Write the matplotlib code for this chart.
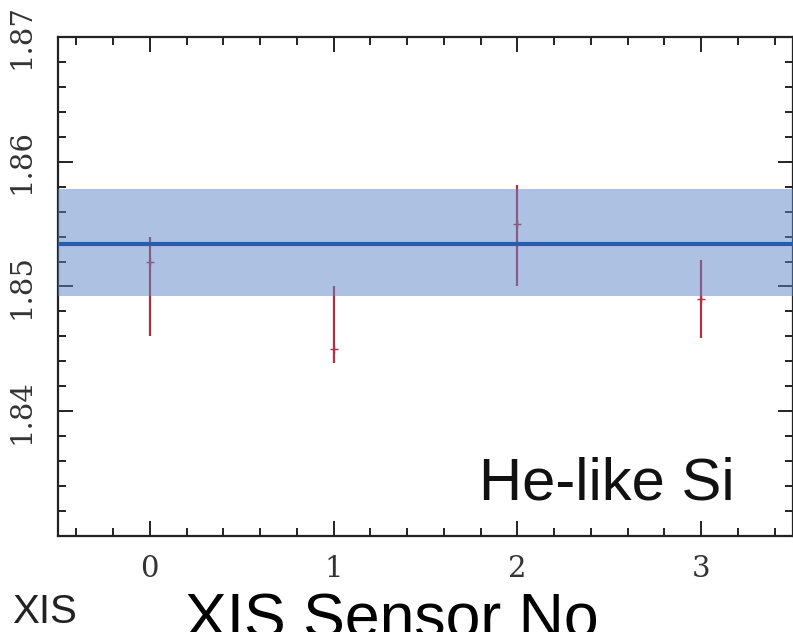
import matplotlib
matplotlib.use("Agg")
import matplotlib.pyplot as plt
from matplotlib.ticker import MultipleLocator, FixedLocator, FormatStrFormatter

# ---- data ----
sensors = [0, 1, 2, 3]
values = [1.852, 1.845, 1.855, 1.849]
err_low = [1.846, 1.8439, 1.850, 1.8459]
err_high = [1.854, 1.850, 1.8581, 1.8521]
mean_value = 1.8534
band_low = 1.8492
band_high = 1.8578
y_ticks = [1.84, 1.85, 1.86, 1.87]
x_ticks = [0, 1, 2, 3]

yerr = [[v - lo for v, lo in zip(values, err_low)],
        [hi - v for v, hi in zip(values, err_high)]]

fig = plt.figure(figsize=(7.93, 6.32), dpi=100)
ax = fig.add_axes([0.0731, 0.1519, 0.927, 0.7896])

ax.errorbar(sensors, values, yerr=yerr, fmt='+', color='#b23040',
            ecolor='#b23040', elinewidth=1.6, markersize=6, capsize=0, zorder=2)
ax.axhspan(band_low, band_high, color='#5d87c9', alpha=0.5, lw=0, zorder=3)
ax.axhline(mean_value, color='#2a5cae', lw=3, zorder=4)

ax.set_xlim(-0.5, 3.5)
ax.set_ylim(1.83, 1.87)
ax.xaxis.set_major_locator(FixedLocator(x_ticks))
ax.xaxis.set_minor_locator(MultipleLocator(0.2))
ax.yaxis.set_major_locator(FixedLocator(y_ticks))
ax.yaxis.set_minor_locator(MultipleLocator(0.002))
ax.yaxis.set_major_formatter(FormatStrFormatter('%.2f'))

ax.tick_params(which='both', direction='in', top=True, right=True,
               color='#222222', width=1.4)
ax.tick_params(which='major', length=11)
ax.tick_params(which='minor', length=6)
ax.tick_params(axis='x', which='major', pad=14, labelsize=21, labelcolor='#333333')
ax.tick_params(axis='y', which='major', pad=16, labelsize=21, labelcolor='#333333')
for lab in ax.get_xticklabels() + ax.get_yticklabels():
    lab.set_family('DejaVu Serif')
for lab in ax.get_yticklabels():
    lab.set_rotation(90)
    lab.set_va('center')

for sp in ax.spines.values():
    sp.set_linewidth(1.6)
    sp.set_color('#222222')

fig.text(735 / 793, (632 - 500) / 632, 'He-like Si', ha='right', va='baseline',
         fontsize=43, family=['Liberation Sans', 'DejaVu Sans'], color='#111111')
fig.text(185 / 793, (632 - 637) / 632, 'XIS Sensor No', ha='left', va='baseline',
         fontsize=45, family=['Liberation Sans', 'DejaVu Sans'], color='#000000')
fig.text(12 / 793, (632 - 623) / 632, 'XIS', ha='left', va='baseline',
         fontsize=29, family=['Liberation Sans Narrow', 'Liberation Sans'],
         color='#222222', stretch='condensed')

fig.savefig('out.png', dpi=100)
